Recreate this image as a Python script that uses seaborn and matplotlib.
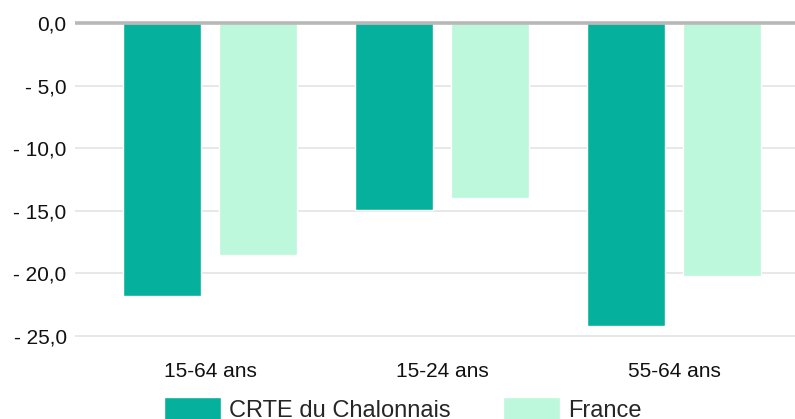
import matplotlib
matplotlib.use('Agg')
import matplotlib.pyplot as plt
import seaborn as sns
import pandas as pd

ages = ['15-64 ans', '15-24 ans', '55-64 ans']
zones = ['CRTE du Chalonnais', 'France']
crte = [-21.8, -14.9, -24.2]
france = [-18.5, -14.0, -20.2]
colors = ['#05b09c', '#bdf7dc']
yticks = [0, -5, -10, -15, -20, -25]

df = pd.DataFrame({
    'age': ages * 2,
    'zone': [zones[0]] * 3 + [zones[1]] * 3,
    'value': crte + france,
})

sns.set_style('white')
plt.rcParams['font.family'] = ['Liberation Sans', 'DejaVu Sans']

fig = plt.figure(figsize=(7.95, 4.19), dpi=100)
ax = fig.add_axes([75 / 795, 1 - 346 / 419, 1 - 75 / 795, 326 / 419])

sns.barplot(data=df, x='age', y='value', hue='zone', palette=colors, saturation=1,
            width=0.828, gap=0.1875, ax=ax, zorder=3)

handles, labels = ax.get_legend_handles_labels()
ax.get_legend().remove()

ax.set_xlim(-0.582, 2.52)
ax.set_ylim(-25.8, 0.24)
ax.set_yticks(yticks)
ax.set_yticklabels(['0,0' if v == 0 else '- ' + f'{abs(v):.1f}'.replace('.', ',') for v in yticks])
ax.set_xlabel('')
ax.set_ylabel('')

for v in yticks:
    if v == 0:
        ax.axhline(v, color='#b8b8b8', lw=2.6, zorder=4)
    else:
        ax.axhline(v, color='#e6e6e6', lw=1.3, zorder=1)

for s in ax.spines.values():
    s.set_visible(False)

ax.tick_params(axis='y', length=0, pad=6, labelsize=15, labelcolor='#111111')
ax.tick_params(axis='x', length=7.2, width=1.5, color='#e6e6e6', pad=4,
               labelsize=15, labelcolor='#111111')

fig.legend(handles, labels, loc='upper left', bbox_to_anchor=(164 / 795, 1 - 397 / 419),
           frameon=False, borderpad=0, borderaxespad=0, ncol=2, fontsize=17,
           handlelength=2.4, handleheight=1.15, handletextpad=0.34, columnspacing=2.25)

fig.savefig('out.png', dpi=100)
